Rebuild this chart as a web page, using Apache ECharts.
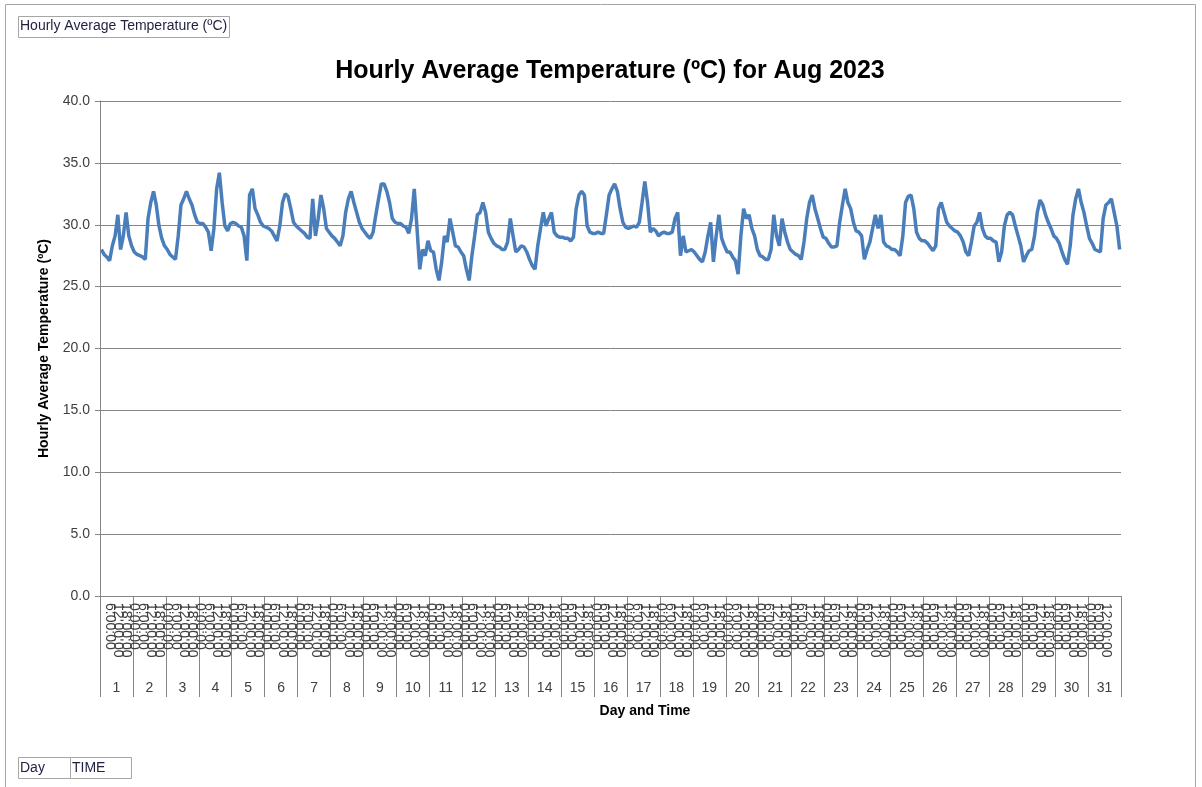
<!DOCTYPE html>
<html>
<head>
<meta charset="utf-8">
<title>Hourly Average Temperature</title>
<script src="https://cdn.jsdelivr.net/npm/echarts@6/dist/echarts.min.js"></script>
<style>
  html, body { margin: 0; padding: 0; background: #fff; }
  #chart { width: 1202px; height: 787px; }
</style>
</head>
<body>
<div id="chart"></div>
<script>
// days of the month and the sample times inside each day
var days = [];
for (var d = 1; d <= 31; d++) days.push(String(d));
var times = ['0:00:00', '2:00:00', '4:00:00', '6:00:00', '8:00:00', '10:00:00',
             '12:00:00', '14:00:00', '16:00:00', '18:00:00', '20:00:00', '22:00:00'];

// temperature readings, one row per day
var temps = [
    [28.0, 27.6, 27.4, 27.1, 28.3, 29.1, 30.8, 28.0, 29.1, 31.0, 29.1, 28.3],
    [27.8, 27.6, 27.5, 27.4, 27.2, 30.5, 31.8, 32.7, 31.6, 29.9, 28.9, 28.3],
    [28.0, 27.6, 27.4, 27.2, 29.1, 31.6, 32.1, 32.7, 32.1, 31.6, 30.8, 30.2],
    [30.1, 30.1, 29.8, 29.4, 27.9, 29.7, 32.9, 34.2, 31.8, 29.9, 29.5, 30.1],
    [30.2, 30.1, 29.9, 29.8, 29.1, 27.1, 32.4, 32.9, 31.3, 30.8, 30.2, 29.9],
    [29.8, 29.7, 29.5, 29.1, 28.7, 29.9, 31.8, 32.5, 32.3, 31.3, 30.2, 29.9],
    [29.7, 29.5, 29.3, 29.0, 28.9, 32.1, 29.1, 30.5, 32.4, 31.3, 29.7, 29.4],
    [29.1, 28.9, 28.6, 28.3, 29.1, 31.0, 32.1, 32.7, 31.8, 31.0, 30.2, 29.7],
    [29.4, 29.1, 28.9, 29.4, 30.8, 32.1, 33.3, 33.3, 32.7, 31.8, 30.5, 30.2],
    [30.1, 30.1, 29.9, 29.8, 29.3, 30.5, 32.9, 29.7, 26.4, 28.0, 27.5, 28.7],
    [27.9, 27.8, 26.4, 25.5, 27.0, 29.1, 28.6, 30.5, 29.4, 28.3, 28.2, 27.8],
    [27.5, 26.4, 25.5, 27.5, 29.1, 30.8, 31.0, 31.8, 31.0, 29.4, 28.9, 28.5],
    [28.3, 28.2, 28.0, 28.0, 28.6, 30.5, 29.1, 27.8, 28.0, 28.3, 28.2, 27.8],
    [27.2, 26.7, 26.4, 28.3, 29.7, 31.0, 29.9, 30.5, 31.0, 29.4, 29.1, 29.0],
    [29.0, 28.9, 28.9, 28.7, 29.0, 31.3, 32.4, 32.7, 32.4, 29.9, 29.4, 29.3],
    [29.3, 29.4, 29.3, 29.3, 30.8, 32.4, 32.9, 33.3, 32.7, 31.3, 30.2, 29.8],
    [29.7, 29.8, 29.9, 29.8, 30.2, 31.8, 33.5, 31.8, 29.4, 29.7, 29.5, 29.1],
    [29.3, 29.4, 29.3, 29.3, 29.4, 30.5, 31.0, 27.5, 29.1, 27.8, 27.9, 28.0],
    [27.8, 27.5, 27.2, 27.0, 27.8, 29.1, 30.2, 27.0, 29.1, 30.8, 28.9, 28.3],
    [27.8, 27.8, 27.4, 27.1, 26.0, 29.1, 31.3, 30.5, 30.8, 29.7, 29.1, 28.0],
    [27.5, 27.4, 27.2, 27.2, 28.0, 30.8, 29.1, 28.3, 30.5, 29.4, 28.6, 28.0],
    [27.8, 27.6, 27.5, 27.2, 28.6, 30.5, 31.8, 32.4, 31.3, 30.5, 29.7, 29.0],
    [28.9, 28.5, 28.2, 28.2, 28.3, 30.2, 31.6, 32.9, 31.8, 31.3, 30.2, 29.5],
    [29.4, 29.1, 27.2, 28.0, 28.6, 29.7, 30.8, 29.7, 30.8, 28.6, 28.3, 28.2],
    [28.0, 28.0, 27.8, 27.5, 29.1, 31.8, 32.3, 32.4, 31.3, 29.4, 28.9, 28.7],
    [28.7, 28.5, 28.2, 27.9, 28.3, 31.3, 31.8, 31.0, 30.2, 29.9, 29.7, 29.5],
    [29.4, 29.1, 28.6, 27.8, 27.5, 28.6, 29.9, 30.2, 31.0, 29.7, 29.1, 28.9],
    [28.9, 28.7, 28.6, 27.0, 27.8, 29.9, 30.8, 31.0, 30.8, 29.9, 29.1, 28.3],
    [27.0, 27.5, 27.9, 28.0, 29.1, 31.0, 32.0, 31.6, 30.8, 30.2, 29.7, 29.1],
    [28.9, 28.5, 27.8, 27.2, 26.8, 28.3, 30.8, 32.1, 32.9, 31.8, 31.0, 29.9],
    [28.9, 28.5, 28.0, 27.9, 27.8, 30.5, 31.6, 31.8, 32.1, 31.0, 29.9, 28.0]
];

var yTicks = [0, 40, 5];   // min, max, step

// flatten to one category per (day, time)
var cats = [];
var vals = [];
temps.forEach(function(row) {
    row.forEach(function(v, i) {
        cats.push(times[i]);
        vals.push(v);
    });
});

var txt = '#404040';
var gridCol = '#868686';
var font = 'Liberation Sans';

var chart = echarts.init(document.getElementById('chart'));
chart.setOption({
    animation: false,
    backgroundColor: '#fff',
    title: {
        text: 'Hourly Average Temperature (ºC) for Aug 2023',
        left: 605,
        textAlign: 'center',
        top: 54,
        textStyle: { fontFamily: font, fontSize: 25, fontWeight: 'bold', color: '#000' }
    },
    grid: { left: 100, right: 81, top: 101, bottom: 191 },
    xAxis: [{
        type: 'category',
        data: cats,
        boundaryGap: true,
        axisLine: { lineStyle: { color: gridCol } },
        axisTick: { show: false },
        axisLabel: {
            interval: 2,
            rotate: -90,
            margin: 7,
            fontFamily: font,
            fontSize: 14,
            color: txt
        }
    }, {
        type: 'category',
        data: days,
        position: 'bottom',
        boundaryGap: true,
        axisLine: { lineStyle: { color: gridCol } },
        axisTick: { show: true, length: 101, lineStyle: { color: gridCol } },
        axisLabel: { interval: 0, margin: 85, fontFamily: font, fontSize: 14, color: txt }
    }],
    yAxis: {
        type: 'value',
        min: yTicks[0],
        max: yTicks[1],
        interval: yTicks[2],
        name: 'Hourly Average Temperature (ºC)',
        nameLocation: 'middle',
        nameGap: 49,
        nameTextStyle: { fontFamily: font, fontSize: 14, fontWeight: 'bold', color: '#000' },
        axisLine: { show: true, lineStyle: { color: gridCol } },
        axisTick: { show: true, length: 5, lineStyle: { color: gridCol } },
        axisLabel: {
            margin: 10,
            fontFamily: font,
            fontSize: 14,
            color: txt,
            formatter: function(v) { return v.toFixed(1); }
        },
        splitLine: { lineStyle: { color: gridCol } }
    },
    series: [{
        type: 'line',
        xAxisIndex: 0,
        data: vals,
        showSymbol: false,
        lineStyle: { color: '#4a7ebb', width: 3.5 },
        itemStyle: { color: '#4a7ebb' }
    }],
    graphic: [
        // outer frame
        { type: 'rect', shape: { x: 5.5, y: 4.5, width: 1190, height: 820 },
          style: { fill: 'none', stroke: '#a6a6a6', lineWidth: 1 }, silent: true },
        // x axis title (sits right of the grid centre like the original)
        { type: 'text', x: 645, y: 711,
          style: { text: 'Day and Time', fontFamily: font, fontSize: 14, fontWeight: 'bold',
                   fill: '#000', align: 'center', verticalAlign: 'middle' } },
        // field button top-left
        { type: 'rect', shape: { x: 18.5, y: 16.5, width: 211, height: 21 },
          style: { fill: '#fff', stroke: '#a6a6a6', lineWidth: 1 } },
        { type: 'text', left: 20, top: 19,
          style: { text: 'Hourly Average Temperature (ºC)', fontFamily: font, fontSize: 14, fill: '#1f1f3f' } },
        // field buttons bottom-left
        { type: 'rect', shape: { x: 18.5, y: 757.5, width: 52, height: 21 },
          style: { fill: '#fff', stroke: '#a6a6a6', lineWidth: 1 } },
        { type: 'rect', shape: { x: 70.5, y: 757.5, width: 61, height: 21 },
          style: { fill: '#fff', stroke: '#a6a6a6', lineWidth: 1 } },
        { type: 'text', left: 20, top: 761,
          style: { text: 'Day', fontFamily: font, fontSize: 14, fill: '#1f1f3f' } },
        { type: 'text', left: 72, top: 761,
          style: { text: 'TIME', fontFamily: font, fontSize: 14, fill: '#1f1f3f' } }
    ]
});
</script>
</body>
</html>
